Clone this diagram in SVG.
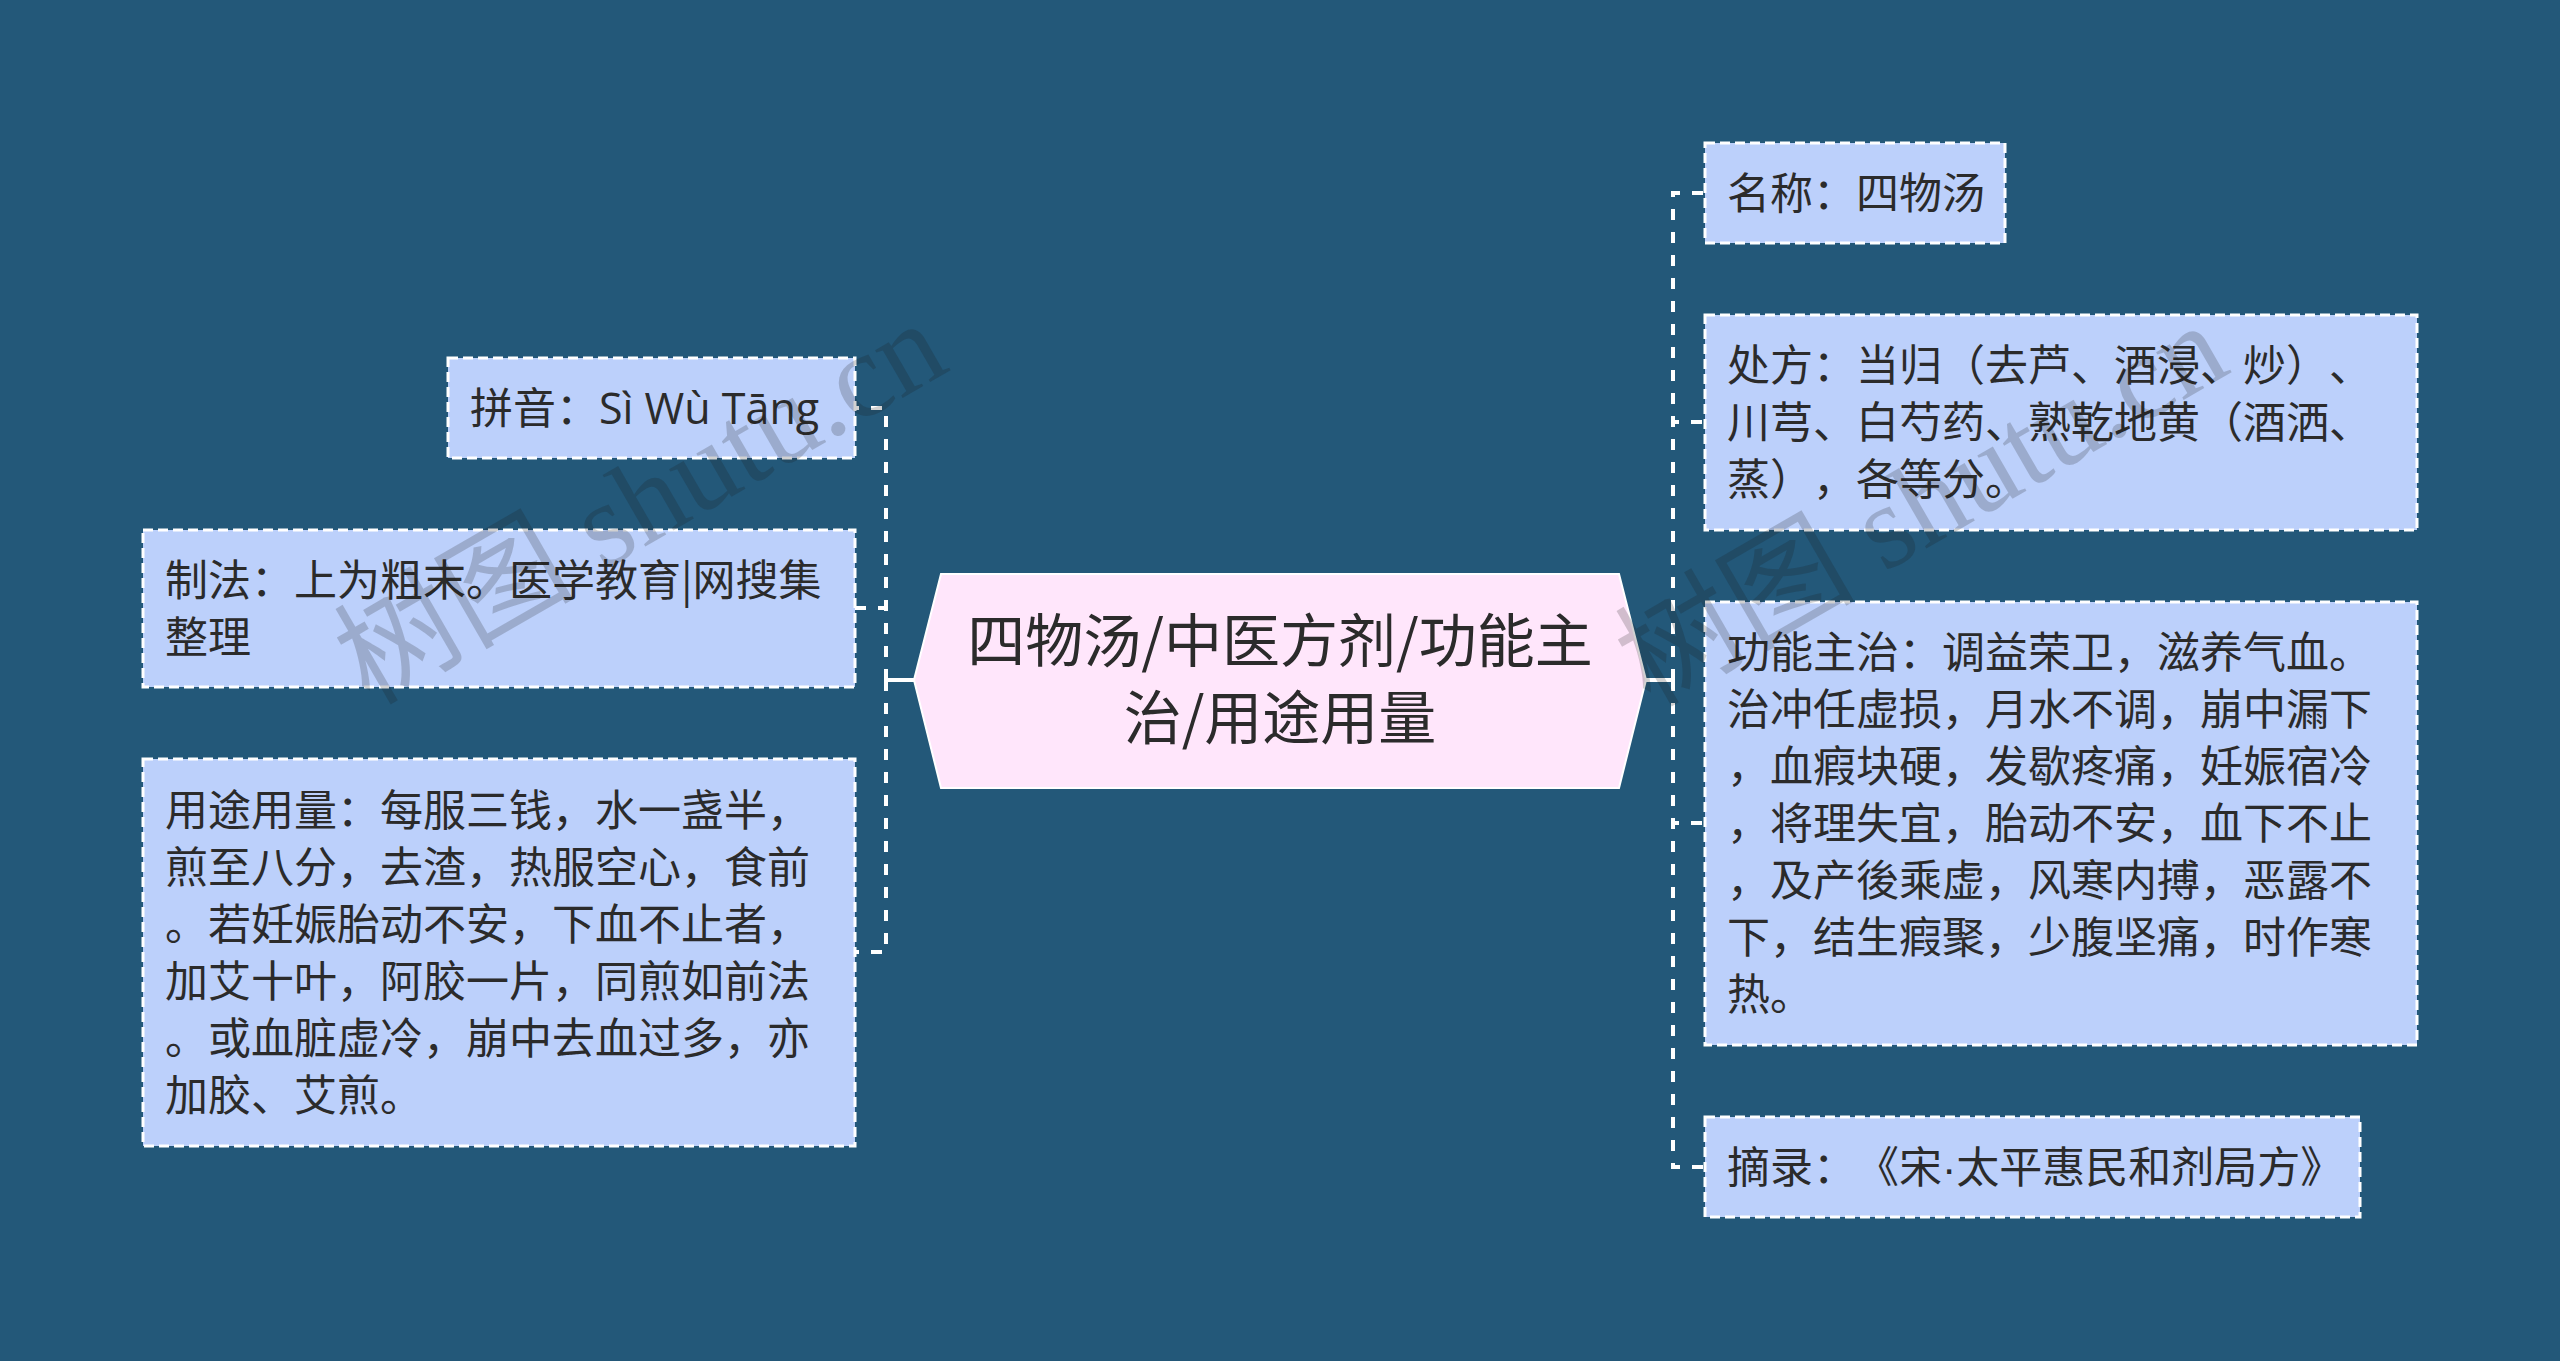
<svg xmlns="http://www.w3.org/2000/svg" width="2560" height="1361" viewBox="0 0 2560 1361">
<style>
text{text-spacing-trim:space-all;}
.t{font-family:"Noto Sans CJK SC","Noto Sans",sans-serif;font-size:43px;fill:#2b2b2b;}
.ct{font-family:"Noto Sans CJK SC","Noto Sans",sans-serif;font-size:58px;fill:#2b2b2b;text-anchor:middle;}
.box{fill:#bcd0fb;stroke:#ffffff;stroke-width:3;stroke-dasharray:10 5;}
.con{fill:none;stroke:#ffffff;stroke-width:4;stroke-dasharray:11 12;}
.solid{fill:none;stroke:#ffffff;stroke-width:4;}
.wm{font-family:"Liberation Serif","Noto Sans CJK SC",serif;font-size:120px;fill:#1a1a1a;fill-opacity:0.2;}
.dot{font-family:"Liberation Sans",sans-serif;}
.lat{font-family:"Open Sans","Noto Sans",sans-serif;}
</style>
<rect x="0" y="0" width="2560" height="1361" fill="#235879"/>
<g id="connectors">
<line class="solid" x1="886" y1="680" x2="914" y2="680"/>
<path class="con" d="M886,680 V408 H855"/>
<path class="con" d="M886,680 V608 H855"/>
<path class="con" d="M886,680 V952 H855"/>
<line class="solid" x1="1646" y1="680" x2="1673" y2="680"/>
<path class="con" d="M1673,680 V193 H1705"/>
<path class="con" d="M1673,680 V422 H1705"/>
<path class="con" d="M1673,680 V823 H1705"/>
<path class="con" d="M1673,680 V1167 H1705"/>
</g>
<g id="center">
<polygon points="914,680 941,574 1619,574 1646,680 1619,788 941,788" fill="#ffe6fb" stroke="#ffffff" stroke-width="2"/>
<text class="ct" x="1280" y="662">四物汤/中医方剂/功能主</text>
<text class="ct" x="1280" y="739">治/用途用量</text>
</g>
<g id="pinyin">
<rect class="box" x="448" y="358" width="407" height="100"/>
<text class="t" x="470" y="424">拼音：<tspan class="lat">Sì Wù Tāng</tspan></text>
</g>
<g id="zhifa">
<rect class="box" x="143" y="530" width="712" height="157"/>
<text class="t" x="165" y="596">制法：上为粗末。医学教育|网搜集</text>
<text class="t" x="165" y="653">整理</text>
</g>
<g id="yongtu">
<rect class="box" x="143" y="759" width="712" height="387"/>
<text class="t" x="165" y="826">用途用量：每服三钱，水一盏半，</text>
<text class="t" x="165" y="883">煎至八分，去渣，热服空心，食前</text>
<text class="t" x="165" y="940">。若妊娠胎动不安，下血不止者，</text>
<text class="t" x="165" y="997">加艾十叶，阿胶一片，同煎如前法</text>
<text class="t" x="165" y="1054">。或血脏虚冷，崩中去血过多，亦</text>
<text class="t" x="165" y="1111">加胶、艾煎。</text>
</g>
<g id="mingcheng">
<rect class="box" x="1705" y="143" width="300" height="100"/>
<text class="t" x="1727" y="209">名称：四物汤</text>
</g>
<g id="chufang">
<rect class="box" x="1705" y="315" width="712" height="215"/>
<text class="t" x="1727" y="381">处方：当归（去芦、酒浸、炒）、</text>
<text class="t" x="1727" y="438">川芎、白芍药、熟乾地黄（酒洒、</text>
<text class="t" x="1727" y="495">蒸），各等分。</text>
</g>
<g id="gongneng">
<rect class="box" x="1705" y="602" width="712" height="443"/>
<text class="t" x="1727" y="668">功能主治：调益荣卫，滋养气血。</text>
<text class="t" x="1727" y="725">治冲任虚损，月水不调，崩中漏下</text>
<text class="t" x="1727" y="782">，血瘕块硬，发歇疼痛，妊娠宿冷</text>
<text class="t" x="1727" y="839">，将理失宜，胎动不安，血下不止</text>
<text class="t" x="1727" y="896">，及产後乘虚，风寒内搏，恶露不</text>
<text class="t" x="1727" y="953">下，结生瘕聚，少腹坚痛，时作寒</text>
<text class="t" x="1727" y="1010">热。</text>
</g>
<g id="zhailu">
<rect class="box" x="1705" y="1117" width="655" height="100"/>
<text class="t" x="1727" y="1183">摘录：《宋<tspan class="dot">·</tspan>太平惠民和剂局方》</text>
</g>
<g id="watermark">
<text class="wm" transform="translate(369,706) rotate(-30)">树图 shutu.cn</text>
<text class="wm" transform="translate(1650,708) rotate(-30)">树图 shutu.cn</text>
</g>
</svg>
